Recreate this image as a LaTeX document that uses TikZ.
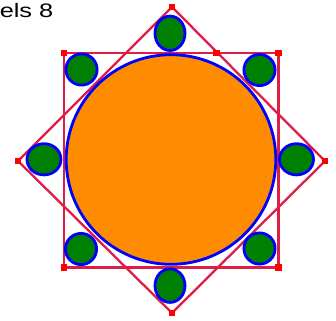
\documentclass[tikz,border=0pt]{standalone}
\usepackage{fontspec}
\setmainfont{Liberation Sans}
\definecolor{redline}{RGB}{222,30,70}
\definecolor{fillorange}{RGB}{255,140,0}
\definecolor{fillgreen}{RGB}{0,128,0}
\tikzset{
  redpath/.style={draw=redline, line width=2.3pt},
  shapeline/.style={draw=blue, line width=2.8pt},
  marker/.style={fill=red, minimum size=6.5pt, inner sep=0pt, outer sep=0pt, draw=none, rectangle}
}
\begin{document}
\begin{tikzpicture}[x=1pt,y=-1pt]
\useasboundingbox (0,0) rectangle (336,320);
% square corners and diamond tips
\coordinate (s1) at (64,53);
\coordinate (s2) at (278.5,53);
\coordinate (s3) at (278.5,267.5);
\coordinate (s4) at (64,267.5);
\coordinate (d1) at (172,7);
\coordinate (d2) at (325,161);
\coordinate (d3) at (172,313);
\coordinate (d4) at (18,161);
\coordinate (m1) at (216.5,53);
% lines
\draw[redpath] (s1) -- (s2) -- (s3) -- (s4) -- cycle;
\draw[redpath] (d1) -- (d2) -- (d3) -- (d4) -- cycle;
% big circle
\draw[shapeline, fill=fillorange] (171,159.5) circle[radius=104.8];
% corner circles
\draw[shapeline, fill=fillgreen] (81.5,69.5) circle[radius=15.6];
\draw[shapeline, fill=fillgreen] (259.5,70) circle[radius=15.6];
\draw[shapeline, fill=fillgreen] (81,249) circle[radius=15.6];
\draw[shapeline, fill=fillgreen] (259.5,248.5) circle[radius=15.6];
% tip ellipses
\draw[shapeline, fill=fillgreen] (170,33.3) ellipse[x radius=15, y radius=17.2];
\draw[shapeline, fill=fillgreen] (170,285.6) ellipse[x radius=15, y radius=16.8];
\draw[shapeline, fill=fillgreen] (44,159.3) ellipse[x radius=17, y radius=15.6];
\draw[shapeline, fill=fillgreen] (296.5,159.3) ellipse[x radius=17, y radius=15.6];
% markers
\foreach \p in {s1,s2,s3,s4,d1,d2,d3,d4,m1} \node[marker] at (\p) {};
% text
\node[anchor=base west, inner sep=0pt, xscale=1.3, font=\fontsize{19.5}{22}\selectfont] (lbl) at (-0.5,17.3) {els 8};
\end{tikzpicture}
\end{document}
